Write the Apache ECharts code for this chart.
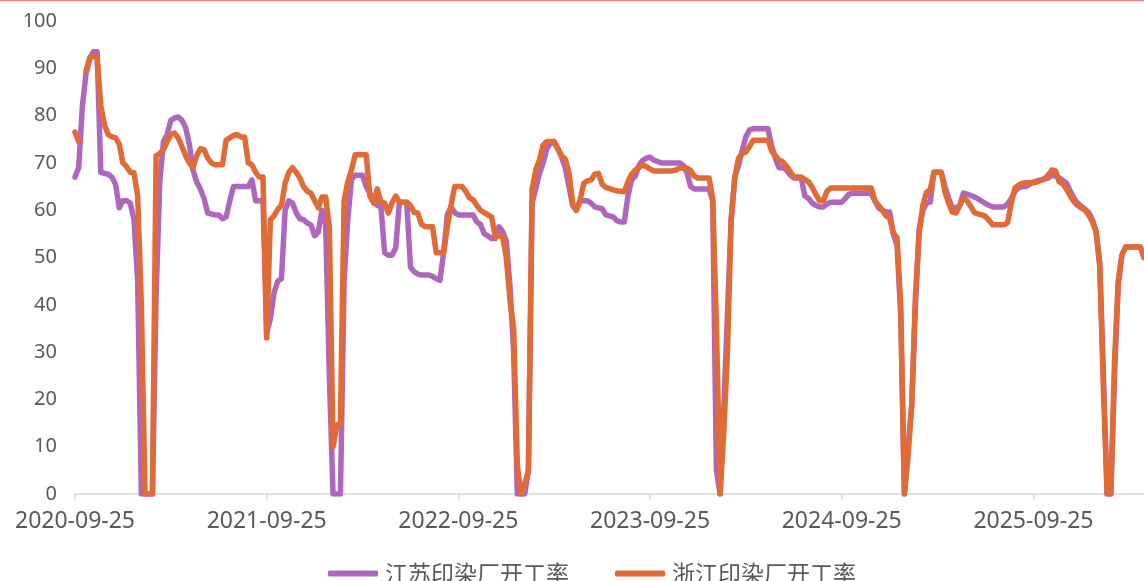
<!DOCTYPE html>
<html>
<head>
<meta charset="utf-8">
<script src="https://cdn.jsdelivr.net/npm/echarts@6/dist/echarts.min.js"></script>
<style>
    html, body { margin: 0; padding: 0; background: #fff; }
    #chart { width: 1144px; height: 581px; }
</style>
</head>
<body>
<div id="chart"></div>
<script>
    // 주간 데이터 (2020-09-25 부터)
    const startDate = '2020-09-25';
    const tickLabels = ['2020-09-25', '2021-09-25', '2022-09-25', '2023-09-25', '2024-09-25', '2025-09-25'];
    const seriesNames = ['江苏印染厂开工率', '浙江印染厂开工率'];

    const jiangsu = [
        67, 69, 82, 89, 92, 93.5, 93.5, 68, 67.8, 67.6,
        67, 65.5, 60.5, 62, 62, 61.5, 58, 45, 0, 0,
        0, 0, 42, 66, 74.5, 76, 79, 79.5, 79.7, 79,
        77.5, 74, 68.5, 66, 64.5, 62.5, 59.4, 59.2, 59, 59,
        58.2, 58.6, 62, 65, 65, 65, 65, 65, 66.4, 62,
        62, 62, 34, 37, 42.5, 45, 45.5, 60, 62, 61.5,
        59.5, 58.2, 58, 57.3, 56.9, 54.6, 55.4, 60, 57, 25,
        0, 0, 0, 45, 58, 66.5, 67.4, 67.4, 67.4, 65,
        63.5, 62.5, 61, 60.7, 51, 50.5, 50.5, 52, 61.7, 61.7,
        61.7, 48, 47, 46.5, 46.3, 46.3, 46.3, 46, 45.5, 45.2,
        51, 59, 60.7, 59.5, 59, 59, 59, 59, 59, 57.5,
        57, 55, 54.6, 54, 54, 56.5, 55.5, 53.5, 44, 30,
        0, 0, 0, 5, 61.5, 64.5, 67.8, 70, 73, 74.2,
        74.2, 73, 71.2, 69, 65, 61, 60, 62, 62, 62,
        61.5, 60.7, 60.5, 60.3, 59, 58.8, 58.6, 57.8, 57.5, 57.5,
        63, 66.4, 67.2, 69.5, 70.5, 71, 71.2, 70.6, 70.3, 70,
        70, 70, 70, 70, 70, 69.5, 68, 65, 64.5, 64.5,
        64.5, 64.5, 64.5, 62, 5, 0, 18, 38, 58, 67,
        69.5, 72.7, 75.5, 77, 77.2, 77.2, 77.2, 77.2, 77.2, 73.5,
        71, 69, 69, 68.5, 67.5, 66.8, 66.8, 66.8, 63, 62.5,
        61.5, 61, 60.7, 60.7, 61.3, 61.7, 61.7, 61.7, 61.7, 62.5,
        63.4, 63.6, 63.6, 63.6, 63.6, 63.6, 63.5, 62, 60.5, 60,
        59.6, 59.6, 55, 52.5, 38, 0, 10, 19, 40, 56,
        60, 61.5, 61.7, 68, 68, 68, 65, 62.5, 60.5, 60.5,
        61, 63.6, 63.4, 63.1, 62.8, 62.4, 61.9, 61.4, 61, 60.7,
        60.7, 60.7, 60.7, 61.3, 62.5, 64, 64.8, 65, 65, 65.5,
        66, 66.2, 66.4, 66.6, 66.8, 67.4, 67.2, 66.8, 66.3, 65.7,
        64, 62.5, 61.5, 60.8, 60.2, 59.5, 58, 55.5, 49, 25,
        0, 0, 25, 44, 50.5, 52.2, 52.2, 52.2, 52.2, 52.2,
        50
    ];

    const zhejiang = [
        76.5, 74.5, null, 89.5, 92.3, 92.5, 92.3, 82, 78, 76,
        75.5, 75.3, 74, 70, 69.2, 68, 67.9, 63, 40, 0,
        0, 0, 71.5, 72, 72.8, 74.5, 76, 76.3, 75.3, 73.5,
        71.5, 70, 69, 71.5, 73, 72.8, 71, 70, 69.6, 69.6,
        69.6, 74.8, 75.3, 75.8, 76, 75.5, 75.5, 70, 69.6, 68,
        67, 67, 33, 58, 58.8, 60.2, 61, 65.7, 68, 69,
        68, 66.8, 65, 64, 63.6, 62, 60.5, 62.8, 62.8, 56.4,
        10, 14.5, 15, 62, 66, 68.5, 71.7, 71.7, 71.7, 71.7,
        63, 61.5, 64.5, 61.7, 61.5, 59.4, 61.5, 63, 61.7, 61.7,
        61.7, 61, 59.5, 59.4, 57, 56.5, 56.5, 56.5, 51, 51,
        51, 56.5, 61, 65, 65, 65, 64, 62.6, 62.2, 61,
        60, 59.5, 59, 58.6, 54.5, 54.6, 54.4, 50, 41, 35,
        6, 0, 2, 5, 64.5, 68.5, 70.6, 73.8, 74.5, 74.5,
        74.5, 73, 71.5, 70.8, 68, 61.5, 60, 62, 65.7, 66.2,
        66.4, 67.6, 67.8, 65.5, 64.8, 64.6, 64.3, 64.1, 64, 63.9,
        66, 67.6, 68.5, 69, 69.6, 69.2, 68.7, 68.3, 68.3, 68.3,
        68.3, 68.3, 68.3, 68.5, 68.9, 68.9, 68.9, 68.4, 67.2, 66.8,
        66.8, 66.8, 66.8, 62.5, 36, 0, 13, 30, 58, 67,
        71, 72, 72.3, 73.5, 74.8, 74.8, 74.8, 74.8, 74.8, 72.5,
        71.5, 70.6, 70.2, 69.3, 68.2, 67, 67, 67, 66.5, 66,
        64.8, 63.3, 62, 62, 64, 64.7, 64.7, 64.7, 64.7, 64.7,
        64.7, 64.7, 64.7, 64.7, 64.7, 64.7, 64.7, 62, 61, 60,
        58.8, 58.3, 55.2, 54.2, 40, 0, 8, 19, 42, 55,
        61, 63.8, 64.3, 68, 68, 68, 63.8, 61.5, 59.6, 59.4,
        61, 62.6, 62, 60.8, 59.5, 59.2, 59, 58.7, 57.8, 56.9,
        56.9, 56.9, 56.9, 57.4, 61.5, 64.7, 65.3, 65.7, 65.8, 65.8,
        65.8, 66, 66.3, 66.6, 67.4, 68.5, 68.3, 66, 65.6, 64.4,
        63, 61.8, 61, 60.5, 60, 59, 57.5, 55.5, 48, 22,
        0, 0, 28, 45, 50.5, 52.2, 52.2, 52.2, 52.2, 52.2,
        50
    ];

    // x축 카테고리: 주 단위 날짜
    const categories = [];
    const d0 = new Date(startDate + 'T00:00:00Z');
    for (let i = 0; i < jiangsu.length; i++) {
        const d = new Date(d0.getTime() + i * 7 * 86400000);
        categories.push(d.toISOString().slice(0, 10));
    }

    const chart = echarts.init(document.getElementById('chart'));
    const textColor = '#595959';
    const yearTick = (index) => index % 52 === 0;

    const option = {
        animation: false,
        backgroundColor: '#fff',
        graphic: [{
            type: 'line',
            shape: { x1: 0, y1: 0.5, x2: 1144, y2: 0.5 },
            style: { stroke: '#e8898b', lineWidth: 1.5 }
        }],
        legend: {
            data: seriesNames,
            left: 323,
            top: 557,
            itemWidth: 50,
            itemHeight: 6,
            itemGap: 46,
            icon: 'roundRect',
            textStyle: {
                fontSize: 23,
                lineHeight: 23,
                padding: [0, 0, 0, 2],
                color: textColor,
                fontFamily: 'Noto Sans CJK SC'
            }
        },
        grid: {
            left: 75,
            right: 0,
            top: 21,
            bottom: 87
        },
        xAxis: {
            type: 'category',
            data: categories,
            boundaryGap: false,
            axisLine: { lineStyle: { color: '#d9d9d9', width: 1.5 } },
            axisTick: {
                interval: yearTick,
                length: 6,
                lineStyle: { color: '#d9d9d9', width: 1.5 }
            },
            axisLabel: {
                interval: yearTick,
                margin: 16,
                fontSize: 23,
                color: textColor,
                fontFamily: 'Noto Sans',
                formatter: (value, index) => tickLabels[Math.round(index / 52)] || value
            },
            splitLine: { show: false }
        },
        yAxis: {
            type: 'value',
            min: 0,
            max: 100,
            interval: 10,
            axisLine: { show: false },
            axisTick: { show: false },
            splitLine: { show: false },
            axisLabel: {
                margin: 18,
                fontSize: 20,
                color: textColor,
                fontFamily: 'Noto Sans'
            }
        },
        series: [
            {
                name: seriesNames[0],
                type: 'line',
                data: jiangsu,
                showSymbol: false,
                connectNulls: false,
                color: '#ae67bd',
                lineStyle: { width: 5.5, join: 'round', cap: 'round' }
            },
            {
                name: seriesNames[1],
                type: 'line',
                data: zhejiang,
                showSymbol: false,
                connectNulls: false,
                color: '#e06b36',
                lineStyle: { width: 5.5, join: 'round', cap: 'round' }
            }
        ]
    };

    chart.setOption(option);
</script>
</body>
</html>
